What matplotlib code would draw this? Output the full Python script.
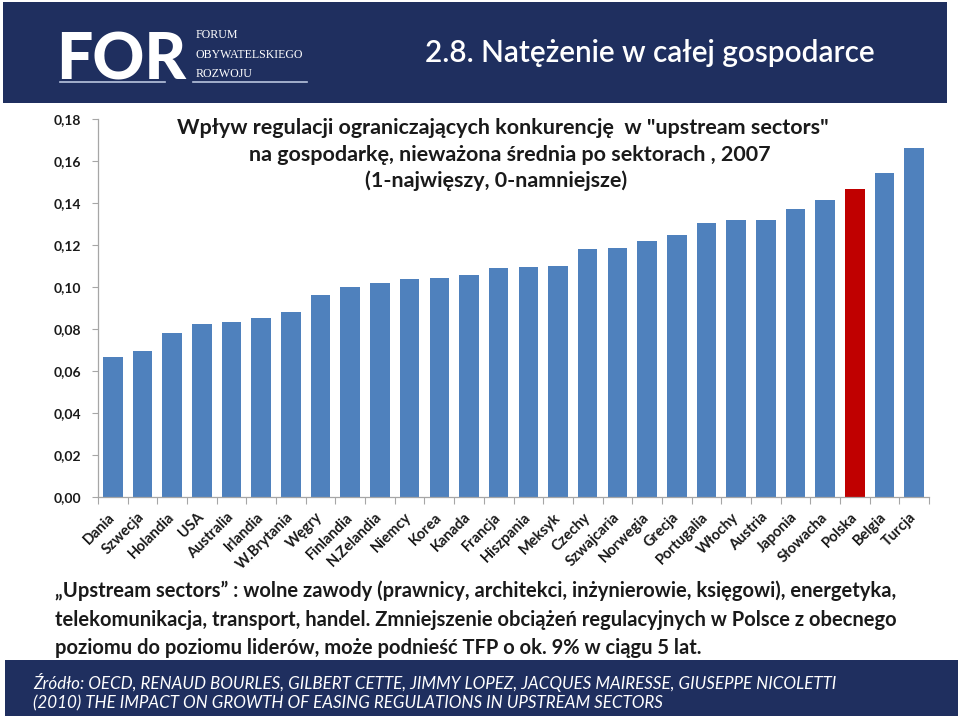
import matplotlib
matplotlib.use("Agg")
import matplotlib.pyplot as plt
import numpy as np
from matplotlib.patches import Rectangle
from matplotlib.lines import Line2D

# ---------------- data ----------------
countries = ["Dania", "Szwecja", "Holandia", "USA", "Australia", "Irlandia",
             "W.Brytania", "Węgry", "Finlandia", "N.Zelandia", "Niemcy", "Korea",
             "Kanada", "Francja", "Hiszpania", "Meksyk", "Czechy", "Szwajcaria",
             "Norwegia", "Grecja", "Portugalia", "Włochy", "Austria", "Japonia",
             "Słowacha", "Polska", "Belgia", "Turcja"]
values = [0.0665, 0.0697, 0.0781, 0.0822, 0.0833, 0.0852,
          0.0879, 0.0960, 0.0999, 0.1017, 0.1040, 0.1044,
          0.1059, 0.1091, 0.1094, 0.1102, 0.1181, 0.1184,
          0.1221, 0.1249, 0.1305, 0.1317, 0.1317, 0.1373,
          0.1414, 0.1467, 0.1545, 0.1664]
highlight = "Polska"
y_ticks = [0.00, 0.02, 0.04, 0.06, 0.08, 0.10, 0.12, 0.14, 0.16, 0.18]

header_title = "2.8. Natężenie w całej gospodarce"
chart_title = ['Wpływ regulacji ograniczających konkurencję  w "upstream sectors"',
               "na gospodarkę, nieważona średnia po sektorach , 2007",
               "(1-najwięszy, 0-namniejsze)"]
note_lines = ["„Upstream sectors” : wolne zawody (prawnicy, architekci, inżynierowie, księgowi), energetyka,",
              "telekomunikacja, transport, handel. Zmniejszenie obciążeń regulacyjnych w Polsce z obecnego",
              "poziomu do poziomu liderów, może podnieść TFP o ok. 9% w ciągu 5 lat."]
source_lines = ["Źródło: OECD, RENAUD BOURLES, GILBERT CETTE, JIMMY LOPEZ, JACQUES MAIRESSE, GIUSEPPE NICOLETTI",
                "(2010) THE IMPACT ON GROWTH OF EASING REGULATIONS IN UPSTREAM SECTORS"]
logo_big = "FOR"
logo_small = ["FORUM", "OBYWATELSKIEGO", "ROZWOJU"]

# ---------------- style ----------------
W, H = 960, 716
NAVY = "#1F2F5F"
BLUE = "#4F81BD"
RED = "#C00000"
TXT = "#1A1A1A"
FONT = ["Lato", "DejaVu Sans"]
SERIF = ["Liberation Serif", "DejaVu Serif"]

plt.rcParams["font.family"] = FONT

fig = plt.figure(figsize=(W / 100, H / 100), dpi=100)
fig.patch.set_facecolor("white")


def fx(px):
    return px / W


def fy(py):
    return 1 - py / H


renderer = fig.canvas.get_renderer()


def fit_width(t, target_px):
    for _ in range(3):
        w = t.get_window_extent(renderer=renderer).width
        t.set_fontsize(t.get_fontsize() * target_px / w)
    return t.get_fontsize()


# header band
fig.add_artist(Rectangle((fx(3), fy(103)), fx(944), 101 / H,
                         transform=fig.transFigure, facecolor=NAVY,
                         edgecolor="none", zorder=0))
# footer band
fig.add_artist(Rectangle((fx(5), 0), fx(953), fy(660),
                         transform=fig.transFigure, facecolor=NAVY,
                         edgecolor="none", zorder=0))

# logo
t = fig.text(fx(56), fy(80), logo_big, color="white", fontsize=50,
             fontweight="black", ha="left", va="baseline", family=FONT)
fit_width(t, 130)
for i, s in enumerate(logo_small):
    fig.text(fx(196), fy([38, 58, 77][i]), s, color="white",
             fontsize=8.6, ha="left", va="baseline", family=SERIF)
fig.add_artist(Line2D([fx(60), fx(165)], [fy(82), fy(82)], color="#B8C4DE",
                      lw=1.2, transform=fig.transFigure))
fig.add_artist(Line2D([fx(193), fx(307)], [fy(82), fy(82)], color="#B8C4DE",
                      lw=1.2, transform=fig.transFigure))

# header title
t = fig.text(fx(425), fy(53), header_title, color="white", fontsize=24,
             ha="left", va="center", fontweight="semibold", family=FONT)
fit_width(t, 448)

# ---------------- chart ----------------
ax = fig.add_axes([fx(98), fy(497), fx(831), 378 / H])
n = len(countries)
x = np.arange(n)
colors = [RED if c == highlight else BLUE for c in countries]
ax.bar(x, values, width=0.66, color=colors, zorder=2)
ax.set_xlim(-0.5, n - 0.5)
ax.set_ylim(0, 0.18)
ax.set_yticks(y_ticks)
ax.set_yticklabels([f"{v:.2f}".replace(".", ",") for v in y_ticks],
                   fontsize=10, fontweight="bold", color=TXT)
ax.set_xticks(x)
ax.set_xticklabels(countries, rotation=45, ha="right", va="center",
                   rotation_mode="anchor", fontsize=10.5, fontweight="bold",
                   color=TXT)
ax.set_xticks(np.arange(-0.5, n, 1), minor=True)
ax.tick_params(axis="x", which="major", length=0, pad=13)
ax.tick_params(axis="x", which="minor", length=5, color="#A6A6A6", width=0.8)
ax.tick_params(axis="y", length=4, color="#A6A6A6", width=0.8, pad=8)
for side in ["top", "right"]:
    ax.spines[side].set_visible(False)
for side in ["left", "bottom"]:
    ax.spines[side].set_color("#A6A6A6")
    ax.spines[side].set_linewidth(0.9)
ax.set_facecolor("none")

# chart title
centers = [503, 510, 496]
ys = [128, 155, 181]
title_size = None
for i, s in enumerate(chart_title):
    t = fig.text(fx(centers[i]), fy(ys[i]), s, ha="center", va="center",
                 fontsize=14, fontweight="bold", color=TXT, family=FONT)
    if i == 0:
        title_size = fit_width(t, 650)
    else:
        t.set_fontsize(title_size)

# note
note_size = None
for i, s in enumerate(note_lines):
    t = fig.text(fx(55), fy([591, 620, 648][i]), s, ha="left", va="center",
                 fontsize=13, fontweight="bold", color=TXT, family=FONT)
    if i == 0:
        note_size = fit_width(t, 840)
    else:
        t.set_fontsize(note_size)

# source
src_size = None
for i, s in enumerate(source_lines):
    t = fig.text(fx(33), fy([683, 703][i]), s, ha="left", va="center",
                 fontsize=12, style="italic", color="white", family=FONT)
    if i == 0:
        src_size = fit_width(t, 805)
    else:
        t.set_fontsize(src_size)

fig.savefig("out.png", dpi=100, facecolor="white")
